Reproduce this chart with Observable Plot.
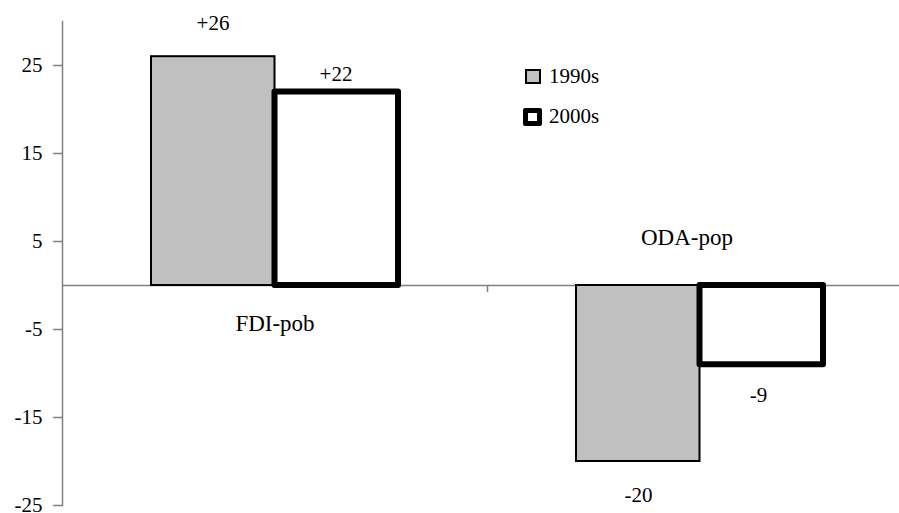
<!DOCTYPE html>
<html><head><meta charset="utf-8">
<script src="https://cdn.jsdelivr.net/npm/d3@7"></script>
<script src="https://cdn.jsdelivr.net/npm/@observablehq/plot@0.6"></script>
<style>
body{margin:0;background:#fff;}
#wrap{position:relative;width:899px;height:513px;font-family:"Liberation Serif","Times New Roman",Times,serif;color:#000;}
#wrap svg text{font-family:inherit;}
.leg{position:absolute;left:523px;font-size:21px;line-height:1;display:flex;align-items:center;white-space:nowrap;}
.sw{box-sizing:border-box;margin-right:7px;}
</style></head><body><div id="wrap"></div>
<script>
const categories = ["FDI-pob", "ODA-pop"];
const series = ["1990s", "2000s"];
const values1990s = [26, -20];
const values2000s = [22, -9];
const labels1990s = ["+26", "-20"];
const labels2000s = ["+22", "-9"];
const yTicks = [25, 15, 5, -5, -15, -25];

const rows90 = categories.map((c, i) => ({category: c, value: values1990s[i], label: labels1990s[i]}));
const rows00 = categories.map((c, i) => ({category: c, value: values2000s[i], label: labels2000s[i]}));
const catRows = categories.map(c => ({category: c}));

const font = '"Liberation Serif", "Times New Roman", Times, serif';
const txt = (data, text, dx, dy, size) => Plot.text(data, {x: "category", y: d => d.value ?? 0, text, dx, dy, fontSize: size, fill: "black", fontFamily: font});

const chart = Plot.plot({
  width: 899,
  height: 513,
  marginLeft: 62,
  marginRight: 0,
  marginTop: 21,
  marginBottom: 8,
  style: {fontFamily: font, background: "white", overflow: "visible"},
  x: {domain: categories, range: [62, 912], padding: 0, axis: null},
  y: {domain: [-25, 30]},
  marks: [
    Plot.axisY({ticks: yTicks, tickSize: 9, tickPadding: 11, fontSize: 21, stroke: "#808080", strokeWidth: 1.5, tickFormat: d => String(d), label: null, fill: "black", fontFamily: font}),
    Plot.frame({anchor: "left", stroke: "#808080", strokeWidth: 1.5}),
    Plot.ruleY([0], {stroke: "#808080", strokeWidth: 1.5}),
    Plot.ruleX([categories[0]], {x: d => d, dx: 212.5, y1: 0, y2: -0.8, stroke: "#808080", strokeWidth: 1.5}),
    Plot.barY(rows90, {x: "category", y: "value", fill: "#c0c0c0", stroke: "black", strokeWidth: 2, insetLeft: 89, insetRight: 212.5}),
    Plot.barY(rows00, {x: "category", y: "value", fill: "white", stroke: "black", strokeWidth: 6, strokeLinejoin: "round", insetLeft: 212.5, insetRight: 89}),
    txt([rows90[0]], "label", -62, -33, 21),
    txt([rows00[0]], "label", 61, -18, 21),
    txt([rows90[1]], "label", -61.5, 34, 21),
    txt([rows00[1]], "label", 58.5, 31, 21),
    txt([catRows[0]], "category", 0, 38.5, 23),
    txt([catRows[1]], "category", -13, -48, 23)
  ]
});
const wrap = document.getElementById("wrap");
wrap.appendChild(chart);

const legendItems = [
  {name: series[0], top: 66, css: "width:16px;height:15px;background:#c0c0c0;border:2px solid #000;margin-left:2px;margin-right:8px;"},
  {name: series[1], top: 106, css: "width:19px;height:18px;background:#fff;border:5px solid #000;border-radius:2px;"}
];
for (const it of legendItems) {
  const div = document.createElement("div");
  div.className = "leg";
  div.style.top = it.top + "px";
  div.innerHTML = `<span class="sw" style="${it.css}"></span><span>${it.name}</span>`;
  wrap.appendChild(div);
}
</script>
</body></html>
